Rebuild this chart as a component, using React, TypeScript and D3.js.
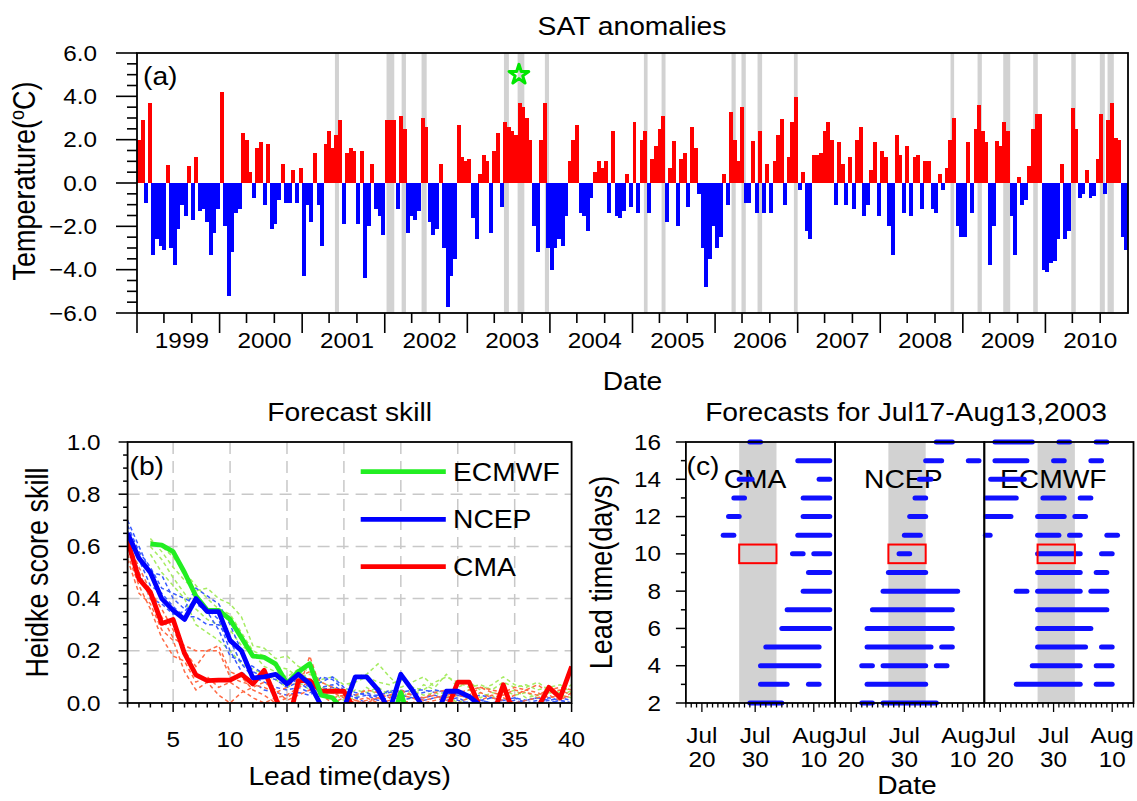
import React from 'react';
import * as d3 from 'd3';

const W = 1137, H = 801;
const FONT = "'Liberation Sans', Arial, Helvetica, sans-serif";
const SX = 1.13;

// ---------- Panel (a): JJA daily SAT anomalies, 4-day bins (23 per season) ----------
const YEARS = [1999, 2000, 2001, 2002, 2003, 2004, 2005, 2006, 2007, 2008, 2009, 2010];
const SEASON_DAYS = 92; // Jun 1 - Aug 31
const BIN_DAYS = 4;
const sat1999 = [2.0, 2.9, -0.9, 3.7, -3.3, -2.6, -2.9, -3.1, 0.85, -3.0, -3.8, -2.1, -1.0, -1.5, 0.8, -1.7, 1.2, -1.3, -1.2, -1.8, -3.3, -2.3, -1.2];
const sat2000 = [4.2, -2.0, -5.2, -3.2, -1.4, -1.2, 2.3, 2.0, 0.5, -0.7, 1.6, 1.9, -1.0, 1.8, -2.1, -1.9, -0.8, 0.9, -0.9, -0.9, 0.6, -0.9, 0.7];
const sat2001 = [-4.3, -1.0, -1.8, 1.4, -1.0, -2.9, 1.8, 2.4, 1.6, 2.2, 2.9, -1.9, 1.4, 1.6, 1.5, -1.9, 1.5, -4.4, -2.0, 0.9, -1.2, -1.5, -2.4];
const sat2002 = [2.9, 2.9, 2.9, -1.2, 3.1, 2.5, -2.3, -1.5, -1.7, -1.3, 3.0, 2.6, -1.8, -2.4, -2.1, 0.9, -3.0, -5.7, -4.3, -3.5, 2.7, 1.2, 1.0];
const sat2003 = [1.1, -1.6, -2.6, 0.4, 1.3, 1.0, -2.3, 1.5, 2.3, -1.1, 2.8, 2.6, 2.4, 2.2, 3.7, 3.5, 3.0, 2.0, -2.0, -3.2, 2.0, 3.7, -3.0];
const sat2004 = [-4.0, -3.0, -2.6, -2.9, -1.5, 1.0, 2.0, 2.7, -1.4, -1.5, -2.2, -0.7, 0.5, 1.0, 0.7, 1.0, -1.4, 2.4, -1.5, -1.6, -1.3, 0.4, -1.1];
const sat2005 = [2.8, -1.4, 2.0, 2.4, -1.4, 1.1, 1.7, 2.5, 3.1, -1.8, 0.7, 1.95, -2.0, 1.1, 1.4, -1.1, 2.6, 1.6, -0.5, -3.0, -4.8, -3.5, -2.0];
const sat2006 = [-3.0, -2.5, 0.4, -1.0, 3.3, 2.0, 1.0, 3.5, -0.9, -0.9, 1.95, -1.4, 2.4, -1.4, 0.9, -1.4, 1.0, 2.2, 2.95, -1.0, 1.2, 2.8, 3.95];
const sat2007 = [-0.3, 0.5, -2.2, -2.6, 1.3, 1.3, 1.4, 2.4, 2.8, 2.0, -1.0, 1.9, 0.9, -1.0, 1.2, -1.2, 2.0, 2.6, -1.5, -1.0, 0.6, 1.9, -1.5];
const sat2008 = [1.5, 1.2, -2.0, -3.3, 2.2, 1.3, -1.4, 1.7, -1.5, 1.2, 1.3, -1.2, 1.0, 1.0, -1.2, -1.4, 0.4, -0.3, 0.7, 2.0, 3.0, -2.0, -2.5];
const sat2009 = [-2.5, 1.9, -1.4, 2.5, 3.6, 2.4, 1.9, -3.8, -2.0, 1.95, 1.7, 2.8, 2.4, -1.5, -3.3, 0.3, -1.0, -0.8, 0.8, 2.5, 3.2, 3.2, -4.0];
const sat2010 = [-4.1, -3.7, -3.6, -2.6, 0.9, -2.6, -2.2, 3.45, 2.5, -0.7, -0.5, 0.6, -0.7, -0.6, 1.1, 3.2, -0.5, 2.9, 3.7, 2.1, 2.0, -2.5, -3.1];
const satByYear = [sat1999, sat2000, sat2001, sat2002, sat2003, sat2004, sat2005, sat2006, sat2007, sat2008, sat2009, sat2010];

// heat events: [year, startDay, endDay] (days since Jun 1)
const heatBands = [
  [2001, 36.5, 41], [2002, 2, 10.6], [2002, 18.8, 23.6], [2002, 41, 46.7],
  [2003, 40.8, 46.3], [2003, 56, 63.5], [2003, 86.4, 91], [2005, 12.7, 16.8],
  [2005, 32.4, 36.8], [2006, 18.3, 23], [2006, 29.4, 34.2], [2006, 47.3, 52.4],
  [2006, 87.8, 92], [2008, 78.3, 82.3], [2009, 16.4, 21.2], [2009, 45, 52.8],
  [2009, 78.4, 83.5], [2010, 28.8, 33.8], [2010, 60.6, 66.2], [2010, 69.2, 76.2],
];
const starMark = { year: 2003, day: 57.5, value: 5.0 };
const tempMajorTicks = [-6, -4, -2, 0, 2, 4, 6];
const monthStartDays = [0, 30, 61]; // Jun 1, Jul 1, Aug 1

// ---------- Panel (b): Heidke skill score vs lead time ----------
const leadTimes = d3.range(1, 41);
const ecmwfHss = [null, null, 0.61, 0.605, 0.58, 0.50, 0.41, 0.355, 0.355, 0.32, 0.25, 0.18, 0.175, 0.15, 0.075, 0.12, 0.15, 0.03, 0.02, -0.03, -0.08, -0.1, -0.08, -0.1, 0.04, -0.1, -0.12, -0.1, -0.12, -0.1, -0.12, -0.1, -0.12, -0.1, -0.12, -0.1, -0.12, -0.1, -0.12, -0.1];
const ncepHss = [0.65, 0.555, 0.50, 0.40, 0.355, 0.32, 0.40, 0.35, 0.35, 0.24, 0.20, 0.096, 0.10, 0.11, 0.073, 0.11, 0.073, -0.01, -0.1, -0.02, 0.10, 0.10, 0.05, -0.03, 0.11, 0.05, -0.02, -0.06, 0.045, 0.045, 0.025, -0.01, -0.1, -0.1, -0.12, -0.1, -0.12, -0.1, -0.12, -0.1];
const cmaHss = [0.62, 0.475, 0.425, 0.305, 0.32, 0.19, 0.108, 0.086, 0.088, 0.088, 0.11, 0.073, 0.125, 0.02, -0.1, 0.086, 0.086, 0.045, 0.045, 0.045, -0.03, -0.1, -0.1, -0.1, -0.1, -0.1, -0.1, -0.1, -0.03, 0.08, 0.08, -0.02, -0.06, 0.07, -0.05, -0.1, -0.02, 0.06, 0.02, 0.14];
const ecmwfMembers = [
  [null, null, 0.63, 0.58, 0.52, 0.47, 0.43, 0.44, 0.40, 0.38, 0.33, 0.22, 0.21, 0.17, 0.18, 0.14, 0.12, 0.08, 0.06, 0.04, 0.10, 0.11, 0.15, 0.10, 0.06, 0.08, 0.10, 0.06, 0.11, 0.06, 0.08, 0.05, 0.07, 0.10, 0.07, 0.06, 0.08, 0.05, 0.04, 0.07],
  [null, null, 0.60, 0.55, 0.48, 0.42, 0.36, 0.32, 0.30, 0.28, 0.22, 0.19, 0.14, 0.12, 0.10, 0.13, 0.08, 0.06, 0.05, 0.02, 0.05, 0.04, 0.06, 0.03, 0.02, 0.05, 0.03, 0.04, 0.02, 0.03, 0.05, 0.02, 0.04, 0.03, 0.05, 0.02, 0.03, 0.05, 0.02, 0.05],
  [null, null, 0.57, 0.50, 0.45, 0.40, 0.30, 0.27, 0.24, 0.20, 0.15, 0.13, 0.11, 0.09, 0.06, 0.08, 0.05, 0.03, 0.04, 0.01, 0.02, 0.06, 0.03, 0.05, 0.01, 0.02, 0.07, 0.05, 0.03, 0.00, 0.02, 0.04, 0.02, 0.05, 0.03, 0.04, 0.02, 0.04, 0.03, 0.02],
  [null, null, 0.62, 0.60, 0.56, 0.50, 0.45, 0.40, 0.36, 0.34, 0.27, 0.20, 0.18, 0.14, 0.13, 0.10, 0.11, 0.09, 0.10, 0.07, 0.08, 0.10, 0.08, 0.07, 0.09, 0.06, 0.05, 0.08, 0.10, 0.08, 0.06, 0.07, 0.05, 0.08, 0.06, 0.07, 0.05, 0.06, 0.07, 0.04],
];
const ncepMembers = [
  [0.70, 0.60, 0.50, 0.49, 0.40, 0.36, 0.44, 0.41, 0.38, 0.30, 0.20, 0.12, 0.10, 0.09, 0.06, 0.08, 0.05, 0.10, 0.09, 0.05, 0.03, 0.04, 0.02, 0.05, 0.04, 0.05, 0.05, 0.04, 0.05, 0.03, 0.02, 0.01, 0.00, 0.01, 0.02, 0.00, 0.01, 0.02, 0.01, 0.00],
  [0.66, 0.55, 0.45, 0.42, 0.37, 0.33, 0.33, 0.30, 0.30, 0.24, 0.15, 0.10, 0.08, 0.06, 0.05, 0.06, 0.04, 0.05, 0.06, 0.04, 0.02, 0.03, 0.01, 0.02, 0.03, 0.02, 0.01, 0.02, 0.03, 0.01, 0.00, 0.01, 0.00, 0.00, 0.01, 0.00, 0.00, 0.01, 0.00, 0.00],
  [0.63, 0.50, 0.40, 0.38, 0.34, 0.35, 0.40, 0.36, 0.32, 0.20, 0.12, 0.08, 0.05, 0.04, 0.03, 0.04, 0.03, 0.06, 0.07, 0.04, 0.02, 0.00, 0.02, 0.03, 0.01, 0.02, 0.02, 0.03, 0.01, 0.02, 0.00, 0.01, 0.02, 0.01, 0.00, 0.01, 0.02, 0.00, 0.01, 0.00],
  [0.68, 0.58, 0.52, 0.44, 0.42, 0.40, 0.38, 0.35, 0.28, 0.18, 0.16, 0.14, 0.11, 0.10, 0.07, 0.09, 0.06, 0.08, 0.10, 0.06, 0.04, 0.03, 0.03, 0.04, 0.05, 0.03, 0.04, 0.05, 0.04, 0.03, 0.02, 0.03, 0.02, 0.01, 0.02, 0.01, 0.02, 0.01, 0.02, 0.01],
];
const cmaMembers = [
  [0.60, 0.50, 0.40, 0.33, 0.25, 0.22, 0.20, 0.20, 0.22, 0.12, 0.10, 0.05, 0.03, 0.00, 0.02, 0.05, 0.18, 0.05, 0.04, 0.02, 0.01, 0.00, 0.02, 0.03, 0.05, 0.03, 0.01, 0.02, 0.03, 0.04, 0.05, 0.06, 0.04, 0.03, 0.05, 0.04, 0.03, 0.05, 0.06, 0.05],
  [0.57, 0.45, 0.36, 0.25, 0.18, 0.16, 0.08, 0.10, 0.06, 0.08, 0.05, 0.02, 0.00, 0.02, 0.03, 0.06, 0.08, 0.04, 0.02, 0.03, 0.01, 0.02, 0.00, 0.01, 0.03, 0.02, 0.00, 0.01, 0.02, 0.03, 0.02, 0.04, 0.02, 0.01, 0.03, 0.05, 0.04, 0.02, 0.03, 0.02],
  [0.55, 0.42, 0.38, 0.28, 0.24, 0.12, 0.05, 0.08, 0.03, 0.00, 0.04, 0.06, 0.08, 0.05, 0.01, 0.03, 0.05, 0.03, 0.00, 0.02, 0.00, 0.01, 0.02, 0.00, 0.01, 0.00, 0.02, 0.03, 0.01, 0.00, 0.02, 0.01, 0.03, 0.02, 0.00, 0.01, 0.02, 0.03, 0.01, 0.04],
  [0.62, 0.52, 0.43, 0.36, 0.28, 0.20, 0.14, 0.20, 0.20, 0.10, 0.08, 0.07, 0.06, 0.04, 0.06, 0.10, 0.12, 0.08, 0.06, 0.04, 0.03, 0.05, 0.04, 0.02, 0.04, 0.03, 0.02, 0.04, 0.05, 0.04, 0.03, 0.06, 0.05, 0.04, 0.06, 0.05, 0.07, 0.04, 0.05, 0.03],
];
const skillTicks = [0, 0.2, 0.4, 0.6, 0.8, 1.0];
const leadTicks = [5, 10, 15, 20, 25, 30, 35, 40];

// ---------- Panel (c): forecast hits, days since Jul 17 2003 ----------
const windowStart = new Date(2003, 6, 17);
const windowDays = 28;
const eventStartDay = 10; // Jul 27
const eventEndDay = 17;   // Aug 3
const boxLead = 10;
const labelDates = [new Date(2003, 6, 20), new Date(2003, 6, 30), new Date(2003, 7, 10)];
const leadAxisTicks = [2, 4, 6, 8, 10, 12, 14, 16];
const cmaHits = [[16, 12, 14], [15, 21, 27], [14, 10, 12.4], [14, 25, 27], [13, 9, 11], [13, 22, 27], [12, 8, 10], [12, 22, 27], [11, 7, 9], [11, 21, 27], [10, 20, 22], [10, 24, 27], [9, 23, 27], [8, 22, 27], [7, 19, 27], [6, 18, 27], [5, 15, 25], [4, 14, 25], [3, 14, 19], [3, 23, 25], [2, 12, 18]];
const ncepHits = [[16, 19, 22], [15, 17, 20], [15, 25, 27], [14, 15.8, 18], [13, 15, 17], [12, 14, 17], [11, 13, 16], [10, 12, 14], [9, 10, 17], [8, 9, 23], [7, 7, 22], [6, 6, 22], [5, 6, 18], [5, 20, 22], [4, 5, 7], [4, 9, 17], [4, 19, 21], [3, 6, 17], [2, 5, 7], [2, 9, 19]];
const ecmwfHits = [[16, 2, 9], [16, 14, 16], [16, 21, 23], [15, 2, 8], [15, 13, 15], [15, 20, 22], [14, 1.2, 7.5], [13, 0.3, 6], [13, 11, 15], [13, 18, 20], [12, 0.3, 5], [12, 10, 15], [12, 17, 19], [11, 0.2, 1.1], [11, 10, 14], [11, 16, 18], [11, 23, 25], [10, 10, 18], [10, 22, 24], [9, 10, 18], [9, 21, 23], [8, 6, 8], [8, 10, 18], [8, 20, 23], [7, 10, 23], [6, 10, 20], [5, 10, 19], [5, 22, 24], [4, 9, 18], [4, 21, 24], [3, 6, 18], [3, 21, 24]];
const models = [
  { name: 'CMA', hits: cmaHits },
  { name: 'NCEP', hits: ncepHits },
  { name: 'ECMWF', hits: ecmwfHits },
];

function T({ x, y, size = 21.5, anchor = 'middle', rot = false, children }: any) {
  const tr = rot
    ? `translate(${x},${y}) rotate(-90) scale(1,${SX})`
    : `translate(${x},${y}) scale(${SX},1)`;
  return (
    <text transform={tr} fontSize={size} fontFamily={FONT} textAnchor={anchor} fill="#000">
      {children}
    </text>
  );
}

export default function App() {
  // ---- panel a scales
  const A = { l: 137, r: 1128, t: 53, b: 313 };
  const xa = d3.scaleLinear().domain([0, YEARS.length * SEASON_DAYS]).range([A.l, A.r]);
  const ya = d3.scaleLinear().domain([-6, 6]).range([A.b, A.t]);
  const yIdx = (yr: number) => YEARS.indexOf(yr);

  const bars: any[] = [];
  satByYear.forEach((vals, k) => {
    vals.forEach((v, i) => {
      const d0 = k * SEASON_DAYS + i * BIN_DAYS;
      const d1 = k * SEASON_DAYS + Math.min(SEASON_DAYS, (i + 1) * BIN_DAYS);
      const x0 = xa(d0), x1 = xa(d1);
      bars.push(
        <rect key={`b${k}-${i}`} x={x0} width={x1 - x0 + 0.4} y={ya(Math.max(0, v))}
          height={Math.abs(ya(v) - ya(0))} fill={v >= 0 ? '#ff0000' : '#0000ff'} />
      );
    });
  });

  const minorTemp = d3.range(-6, 6.01, 0.5);
  const starPath = d3.symbol(d3.symbolStar, 120)() as string;

  // ---- panel b scales
  const B = { l: 127.6, r: 571.6, t: 442, b: 703 };
  const xb = d3.scaleLinear().domain([1, 40]).range([B.l, B.r]);
  const yb = d3.scaleLinear().domain([0, 1]).range([B.b, B.t]);
  const lineB = d3.line<any>().defined((d: any) => d[1] != null).x((d: any) => xb(d[0])).y((d: any) => yb(d[1]));
  const pairs = (arr: any[]) => leadTimes.map((l, i) => [l, arr[i]]);

  // ---- panel c scales
  const C = { l: 685.9, t: 442, b: 703, w: 149.2 };
  const yc = d3.scaleLinear().domain([2, 16]).range([C.b, C.t]);
  const dayOf = (dt: Date) => d3.timeDay.count(windowStart, dt);

  return (
    <svg width={W} height={H} style={{ position: 'absolute', left: 0, top: 0, background: '#fff' }}>
      <rect x={0} y={0} width={W} height={H} fill="#fff" />
      <defs>
        <clipPath id="clipB"><rect x={B.l} y={B.t} width={B.r - B.l} height={B.b - B.t} /></clipPath>
      </defs>

      {/* ================= Panel (a) ================= */}
      <T x={632} y={35} size={25}>SAT anomalies</T>
      {heatBands.map(([yr, s, e], i) => {
        const base = yIdx(yr) * SEASON_DAYS;
        return <rect key={`hb${i}`} x={xa(base + s)} width={xa(base + e) - xa(base + s)} y={A.t} height={A.b - A.t} fill="#d2d2d2" />;
      })}
      <g shapeRendering="crispEdges">{bars}</g>
      <path d={starPath} transform={`translate(${xa(yIdx(starMark.year) * SEASON_DAYS + starMark.day)},${ya(starMark.value)})`}
        fill="none" stroke="#00e600" strokeWidth={3} strokeLinejoin="round" />
      <rect x={A.l} y={A.t} width={A.r - A.l} height={A.b - A.t} fill="none" stroke="#000" strokeWidth={1.8} />
      {minorTemp.map((v) => {
        const major = tempMajorTicks.includes(v);
        return <line key={`ta${v}`} x1={A.l} x2={A.l - (major ? 21 : 10)} y1={ya(v)} y2={ya(v)} stroke="#000" strokeWidth={1.6} />;
      })}
      {tempMajorTicks.map((v) => (
        <T key={`tl${v}`} x={97} y={ya(v) + 7.5} anchor="end">{d3.format('.1f')(v)}</T>
      ))}
      {YEARS.map((yr, k) => (
        <g key={`yr${yr}`}>
          {monthStartDays.map((md, j) => (
            <line key={`m${j}`} x1={xa(k * SEASON_DAYS + md)} x2={xa(k * SEASON_DAYS + md)} y1={A.b}
              y2={A.b + (j === 0 ? 20 : 10)} stroke="#000" strokeWidth={1.6} />
          ))}
          <T x={xa(k * SEASON_DAYS + 50)} y={348}>{String(yr)}</T>
        </g>
      ))}
      <T x={35} y={181} size={27} rot anchor="middle">
        Temperature(<tspan dy={-10} fontSize={18}>o</tspan><tspan dy={10}>C)</tspan>
      </T>
      <T x={632.5} y={390} size={25}>Date</T>
      <T x={143} y={85} size={25} anchor="start">(a)</T>

      {/* ================= Panel (b) ================= */}
      <T x={349.6} y={421} size={25}>Forecast skill</T>
      {[5, 10, 15, 20, 25, 30, 35].map((v) => (
        <line key={`gx${v}`} x1={xb(v)} x2={xb(v)} y1={B.t} y2={B.b} stroke="#c8c8c8" strokeWidth={1.5} strokeDasharray="12,7" />
      ))}
      {[0.2, 0.4, 0.6, 0.8].map((v) => (
        <line key={`gy${v}`} x1={B.l} x2={B.r} y1={yb(v)} y2={yb(v)} stroke="#c8c8c8" strokeWidth={1.5} strokeDasharray="12,7" />
      ))}
      <g clipPath="url(#clipB)" fill="none">
        {ecmwfMembers.map((m, i) => (
          <path key={`em${i}`} d={lineB(pairs(m)) as string} stroke="#a6ec62" strokeWidth={1.5} strokeDasharray="4,3" />
        ))}
        {ncepMembers.map((m, i) => (
          <path key={`nm${i}`} d={lineB(pairs(m)) as string} stroke="#3a5cff" strokeWidth={1.5} strokeDasharray="4,3" />
        ))}
        {cmaMembers.map((m, i) => (
          <path key={`cm${i}`} d={lineB(pairs(m)) as string} stroke="#ff6a44" strokeWidth={1.5} strokeDasharray="4,3" />
        ))}
        <path d={lineB(pairs(cmaHss)) as string} stroke="#ff0000" strokeWidth={4.8} strokeLinejoin="round" />
        <path d={lineB(pairs(ecmwfHss)) as string} stroke="#22ee22" strokeWidth={4.8} strokeLinejoin="round" />
        <path d={lineB(pairs(ncepHss)) as string} stroke="#0000ff" strokeWidth={4.8} strokeLinejoin="round" />
      </g>
      <rect x={B.l} y={B.t} width={B.r - B.l} height={B.b - B.t} fill="none" stroke="#000" strokeWidth={1.8} />
      {d3.range(0, 1.001, 0.05).map((v) => {
        const major = Math.abs(v * 5 - Math.round(v * 5)) < 1e-6;
        return <line key={`tb${v}`} x1={B.l} x2={B.l - (major ? 9 : 4.5)} y1={yb(v)} y2={yb(v)} stroke="#000" strokeWidth={1.5} />;
      })}
      {skillTicks.map((v) => (
        <T key={`sl${v}`} x={100.6} y={yb(v) + 7.5} anchor="end">{d3.format('.1f')(v)}</T>
      ))}
      {leadTimes.map((l) => (
        <line key={`lx${l}`} x1={xb(l)} x2={xb(l)} y1={B.b} y2={B.b + (l % 5 === 0 ? 9 : 4.5)} stroke="#000" strokeWidth={1.5} />
      ))}
      {leadTicks.map((l) => (
        <T key={`ll${l}`} x={xb(l)} y={746.7}>{String(l)}</T>
      ))}
      <T x={349.6} y={785} size={25}>Lead time(days)</T>
      <T x={48} y={572.5} size={27} rot>Heidke score skill</T>
      <T x={129.5} y={475} size={25} anchor="start">(b)</T>
      {[
        { name: 'ECMWF', color: '#22ee22', y: 471.7 },
        { name: 'NCEP', color: '#0000ff', y: 519.3 },
        { name: 'CMA', color: '#ff0000', y: 566.7 },
      ].map((d) => (
        <g key={`lg${d.name}`}>
          <line x1={360.7} x2={445.8} y1={d.y} y2={d.y} stroke={d.color} strokeWidth={4.8} />
          <T x={453} y={d.y + 9} size={25} anchor="start">{d.name}</T>
        </g>
      ))}

      {/* ================= Panel (c) ================= */}
      <T x={906} y={421} size={25}>Forecasts for Jul17-Aug13,2003</T>
      {models.map((m, mi) => {
        const x0 = C.l + mi * C.w;
        const xc = d3.scaleLinear().domain([0, windowDays]).range([x0, x0 + C.w]);
        const labelX = [755, 903.3, 1053.3][mi];
        return (
          <g key={`p${m.name}`}>
            <rect x={xc(eventStartDay)} width={xc(eventEndDay) - xc(eventStartDay)} y={C.t} height={C.b - C.t} fill="#d2d2d2" />
            <T x={labelX} y={488} size={25}>{m.name}</T>
            {m.hits.map(([lead, s, e], i) => (
              <line key={`h${i}`} x1={xc(s)} x2={xc(e)} y1={yc(lead)} y2={yc(lead)} stroke="#1010ff" strokeWidth={5} strokeLinecap="round" />
            ))}
            <rect x={xc(eventStartDay)} width={xc(eventEndDay) - xc(eventStartDay)} y={yc(boxLead + 0.5)}
              height={yc(boxLead - 0.5) - yc(boxLead + 0.5)} fill="none" stroke="#ff0000" strokeWidth={2} />
            <rect x={x0} y={C.t} width={C.w} height={C.b - C.t} fill="none" stroke="#000" strokeWidth={1.8} />
            {d3.range(0, windowDays + 1).map((d) => {
              const major = labelDates.some((ld) => dayOf(ld) === d);
              return <line key={`dt${d}`} x1={xc(d)} x2={xc(d)} y1={C.b} y2={C.b + (major ? 9 : 4.5)} stroke="#000" strokeWidth={1.3} />;
            })}
            {labelDates.map((ld, j) => (
              <g key={`dl${j}`}>
                <T x={xc(dayOf(ld))} y={743}>{d3.timeFormat('%b')(ld)}</T>
                <T x={xc(dayOf(ld))} y={767}>{String(ld.getDate())}</T>
              </g>
            ))}
          </g>
        );
      })}
      {d3.range(2, 17).map((v) => (
        <line key={`cl${v}`} x1={C.l} x2={C.l - (v % 2 === 0 ? 10 : 5)} y1={yc(v)} y2={yc(v)} stroke="#000" strokeWidth={1.5} />
      ))}
      {leadAxisTicks.map((v) => (
        <T key={`cy${v}`} x={661} y={yc(v) + 7.5} anchor="end">{String(v)}</T>
      ))}
      <T x={612} y={572.5} size={27} rot>Lead time(days)</T>
      <T x={907} y={794} size={25}>Date</T>
      <T x={686.6} y={475} size={25} anchor="start">(c)</T>
    </svg>
  );
}
